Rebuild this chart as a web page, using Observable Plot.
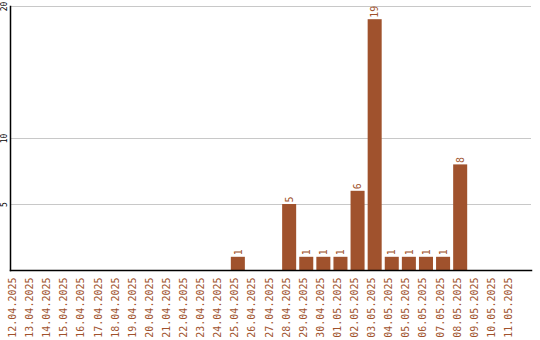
<!DOCTYPE html>
<html>
<head>
<meta charset="utf-8">
<script src="https://cdn.jsdelivr.net/npm/d3@7"></script>
<script src="https://cdn.jsdelivr.net/npm/@observablehq/plot@0.6"></script>
<style>
  html, body { margin: 0; padding: 0; background: #fff; }
  #chart svg { display: block; }
</style>
</head>
<body>
<div id="chart"></div>
<script>
const dates = ["12.04.2025","13.04.2025","14.04.2025","15.04.2025","16.04.2025","17.04.2025","18.04.2025","19.04.2025","20.04.2025","21.04.2025","22.04.2025","23.04.2025","24.04.2025","25.04.2025","26.04.2025","27.04.2025","28.04.2025","29.04.2025","30.04.2025","01.05.2025","02.05.2025","03.05.2025","04.05.2025","05.05.2025","06.05.2025","07.05.2025","08.05.2025","09.05.2025","10.05.2025","11.05.2025"];
const counts = [0,0,0,0,0,0,0,0,0,0,0,0,0,1,0,0,5,1,1,1,6,19,1,1,1,1,8,0,0,0];
const yTicks = [5, 10, 20];

const data = dates.map((d, i) => ({date: d, value: counts[i]}));
const nonZero = data.filter(d => d.value > 0);
const brown = "#a0522d";
const font = "DejaVu Sans Mono";

const chart = Plot.plot({
  width: 540,
  height: 340,
  marginTop: 6,
  marginBottom: 70,
  marginLeft: 10,
  marginRight: 9,
  style: {fontFamily: font, background: "#fff"},
  x: {domain: dates, range: [8.5, 518.5], round: false, paddingInner: 0.18, paddingOuter: 0, axis: null},
  y: {domain: [0, 20], axis: null},
  marks: [
    Plot.ruleY(yTicks, {stroke: "#c8c8c8"}),
    Plot.barY(data, {x: "date", y: "value", fill: brown}),
    Plot.text(nonZero, {x: "date", y: "value", text: d => String(d.value), rotate: -90, textAnchor: "start", dy: -2, fill: brown, fontSize: 10, fontFamily: font}),
    Plot.text(dates, {x: d => d, text: d => d, frameAnchor: "bottom", rotate: -90, textAnchor: "end", dy: 7, fill: brown, fontSize: 10, fontFamily: font}),
    Plot.text(yTicks, {y: d => d, text: d => String(d), frameAnchor: "left", rotate: -90, textAnchor: "middle", dx: -6, fill: "#000", fontSize: 8, fontFamily: font}),
    Plot.frame({anchor: "left", stroke: "#000", strokeWidth: 1.5}),
    Plot.frame({anchor: "bottom", stroke: "#000", strokeWidth: 1.5})
  ]
});
document.getElementById("chart").appendChild(chart);
</script>
</body>
</html>
